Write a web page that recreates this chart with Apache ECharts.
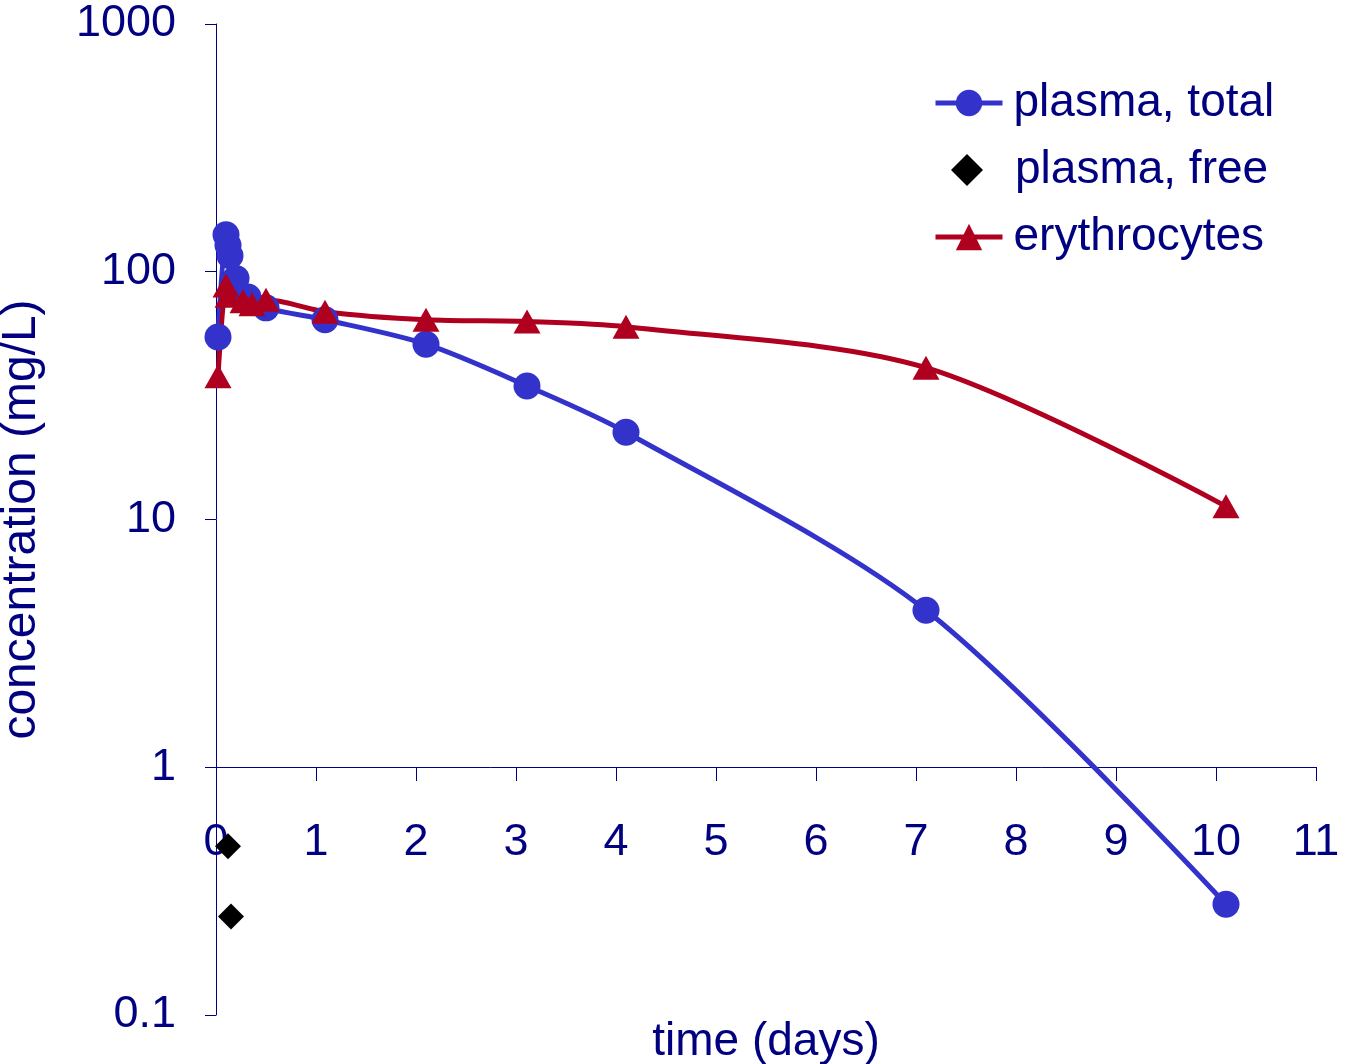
<!DOCTYPE html>
<html>
<head>
<meta charset="utf-8">
<title>concentration vs time</title>
<script src="https://cdn.jsdelivr.net/npm/echarts@6/dist/echarts.min.js"></script>
<style>
html,body{margin:0;padding:0;background:#fff;}
#main{width:1349px;height:1064px;}
</style>
</head>
<body>
<div id="main"></div>
<script>
// values (time in days, concentration in mg/L)
var plasmaTotalT = [0.02, 0.1, 0.12, 0.14, 0.2, 0.32, 0.5, 1.09, 2.1, 3.11, 4.1, 7.1, 10.1];
var plasmaTotalC = [54.5, 141, 128, 116, 94, 79, 71.5, 64, 51, 34.6, 22.5, 4.3, 0.28];

var plasmaFreeT = [0.12, 0.15];
var plasmaFreeC = [0.48, 0.25];

var erythT = [0.02, 0.1, 0.12, 0.27, 0.36, 0.5, 1.09, 2.1, 3.11, 4.1, 7.1, 10.1];
var erythC = [37.9, 88, 80, 76, 74, 77, 69, 64, 63, 60, 41, 11.3];

var xTicks = [0, 11, 1];          // min, max, step
var yTicks = [0.1, 1000];         // log axis range

var navy = '#000080';
var font = 'Liberation Sans, Arial, sans-serif';

function pairs(t, c) {
  var out = [];
  for (var i = 0; i < t.length; i++) out.push([t[i], c[i]]);
  return out;
}

var legendText = { color: navy, fontSize: 46, fontFamily: font, lineHeight: 50 };

var chart = echarts.init(document.getElementById('main'));
chart.setOption({
  backgroundColor: '#fff',
  animation: false,
  textStyle: { fontFamily: font },
  grid: { left: 216, right: 33, top: 24, bottom: 49, containLabel: false, outerBoundsMode: 'none' },
  legend: [
    {
      // line series: line + marker icons
      left: 933,
      top: 78,
      padding: 0,
      orient: 'vertical',
      itemWidth: 67,
      itemHeight: 33,
      itemGap: 84,
      lineStyle: { width: 5 },
      textStyle: Object.assign({ padding: [0, 0, 0, 6] }, legendText),
      data: ['plasma, total', 'erythrocytes']
    },
    {
      // scatter series: diamond only, kept square
      left: 951,
      top: 145,
      padding: 0,
      orient: 'vertical',
      itemWidth: 32,
      itemHeight: 32,
      textStyle: Object.assign({ padding: [0, 0, 0, 27] }, legendText),
      data: ['plasma, free']
    }
  ],
  xAxis: {
    type: 'value',
    min: xTicks[0],
    max: xTicks[1],
    interval: xTicks[2],
    offset: -248,
    name: 'time (days)',
    nameLocation: 'middle',
    nameGap: 252,
    nameTextStyle: { color: navy, fontSize: 46, fontFamily: font },
    axisLine: { show: true, lineStyle: { color: navy, width: 1 } },
    axisTick: { show: true, length: 14, lineStyle: { color: navy } },
    axisLabel: { color: navy, fontSize: 45, fontFamily: font, margin: 53 },
    splitLine: { show: false }
  },
  yAxis: {
    type: 'log',
    logBase: 10,
    min: yTicks[0],
    max: yTicks[1],
    name: 'concentration (mg/L)',
    nameLocation: 'middle',
    nameGap: 170,
    nameTextStyle: { color: navy, fontSize: 48, fontFamily: font },
    axisLine: { show: true, lineStyle: { color: navy, width: 1 } },
    axisTick: { show: true, length: 11, lineStyle: { color: navy } },
    axisLabel: {
      color: navy, fontSize: 45, fontFamily: font, margin: 40,
      formatter: function (v) { return String(v); }
    },
    minorTick: { show: false },
    splitLine: { show: false }
  },
  series: [
    {
      name: 'plasma, total',
      type: 'line',
      smooth: 0.3,
      data: pairs(plasmaTotalT, plasmaTotalC),
      symbol: 'circle',
      symbolSize: 27,
      lineStyle: { color: '#3333CC', width: 5 },
      itemStyle: { color: '#3333CC' }
    },
    {
      name: 'plasma, free',
      type: 'scatter',
      data: pairs(plasmaFreeT, plasmaFreeC),
      symbol: 'diamond',
      symbolSize: 26,
      itemStyle: { color: '#000000', opacity: 1 }
    },
    {
      name: 'erythrocytes',
      type: 'line',
      smooth: 0.3,
      data: pairs(erythT, erythC),
      symbol: 'triangle',
      symbolSize: [27, 24],
      lineStyle: { color: '#B00020', width: 5 },
      itemStyle: { color: '#B00020' }
    }
  ]
});
</script>
</body>
</html>
